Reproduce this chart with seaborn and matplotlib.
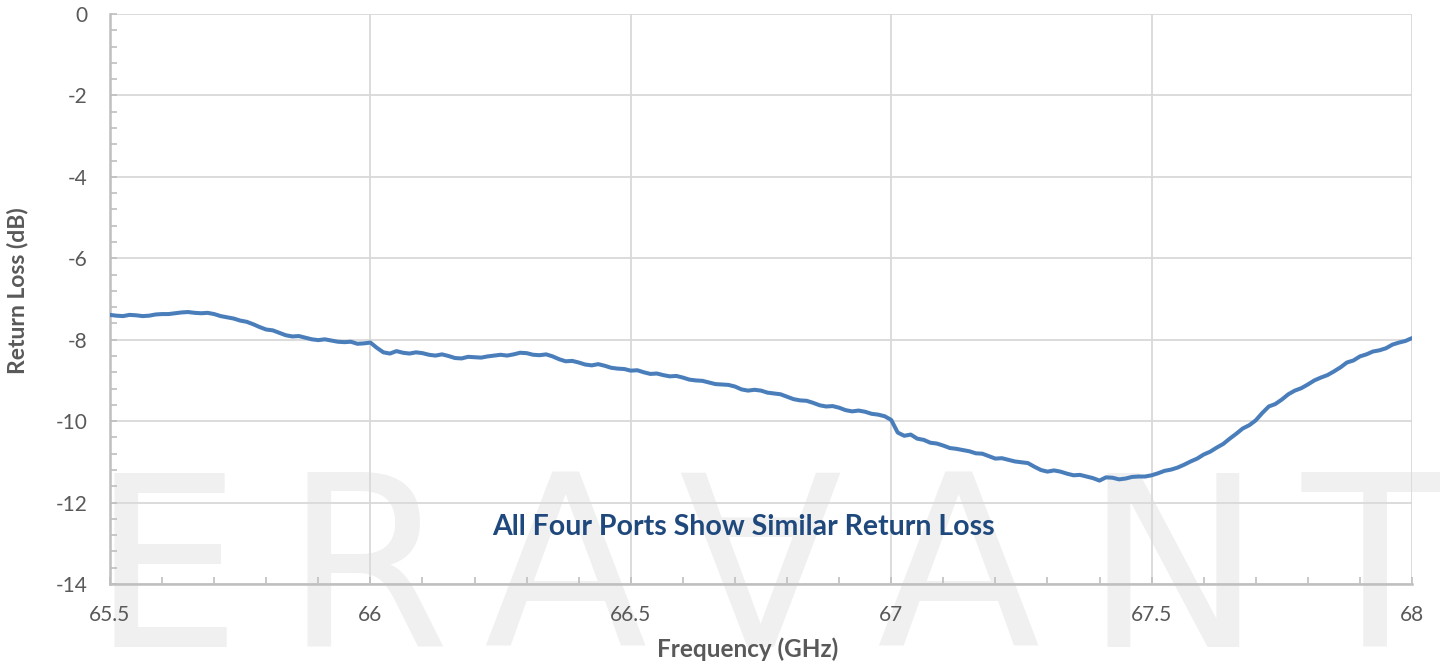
import numpy as np
import pandas as pd
import matplotlib
matplotlib.use("Agg")
import matplotlib.pyplot as plt
from matplotlib.ticker import MultipleLocator
import seaborn as sns

# Measured return loss of a port, 65.5-68 GHz in 12.5 MHz steps
freq_start = 65.5
freq_step = 0.0125
return_loss_db = [
    -7.39, -7.41, -7.42, -7.39, -7.40, -7.42, -7.41, -7.38, -7.37, -7.37,
    -7.35, -7.33, -7.32, -7.34, -7.35, -7.34, -7.37, -7.42, -7.45,
    -7.48, -7.53, -7.56, -7.62, -7.69, -7.75, -7.77, -7.83, -7.89, -7.92,
    -7.91, -7.95, -7.99, -8.01, -7.99, -8.02, -8.05, -8.06, -8.05, -8.10,
    -8.09, -8.07, -8.20, -8.31, -8.34, -8.28, -8.32, -8.34, -8.31, -8.33,
    -8.37, -8.39, -8.36, -8.40, -8.45, -8.46, -8.42, -8.43, -8.44, -8.41,
    -8.39, -8.37, -8.39, -8.36, -8.32, -8.33, -8.37, -8.38, -8.36, -8.41,
    -8.48, -8.53, -8.52, -8.56, -8.61, -8.63, -8.60, -8.64, -8.69, -8.71,
    -8.72, -8.76, -8.75, -8.80, -8.84, -8.83, -8.87, -8.90, -8.89, -8.93,
    -8.98, -9.00, -9.01, -9.05, -9.09, -9.10, -9.11, -9.15, -9.22, -9.25,
    -9.23, -9.25, -9.30, -9.32, -9.34, -9.40, -9.46, -9.49, -9.50, -9.55,
    -9.61, -9.64, -9.63, -9.67, -9.73, -9.76, -9.74, -9.77, -9.82, -9.84,
    -9.88, -9.97, -10.28, -10.36, -10.33, -10.43, -10.46, -10.53, -10.55, -10.60,
    -10.66, -10.68, -10.71, -10.74, -10.79, -10.80, -10.86, -10.92, -10.91, -10.95,
    -10.99, -11.01, -11.03, -11.12, -11.20, -11.24, -11.21, -11.24, -11.29, -11.33,
    -11.32, -11.36, -11.40, -11.46, -11.38, -11.39, -11.43, -11.41, -11.37, -11.36,
    -11.36, -11.33, -11.28, -11.22, -11.19, -11.14, -11.07, -10.99, -10.92, -10.82,
    -10.75, -10.65, -10.56, -10.43, -10.31, -10.18, -10.10, -9.98, -9.80, -9.64,
    -9.58, -9.47, -9.34, -9.25, -9.19, -9.10, -9.00, -8.93, -8.87, -8.78,
    -8.68, -8.56, -8.51, -8.41, -8.36, -8.29, -8.26, -8.21, -8.12, -8.07,
    -8.03, -7.96,
]
frequency_ghz = [round(freq_start + i * freq_step, 4) for i in range(len(return_loss_db))]

x_ticks = [65.5, 66, 66.5, 67, 67.5, 68]
x_tick_labels = ["65.5", "66", "66.5", "67", "67.5", "68"]
y_ticks = [0, -2, -4, -6, -8, -10, -12, -14]
y_tick_labels = ["0", "-2", "-4", "-6", "-8", "-10", "-12", "-14"]

watermark_letters = ["E", "R", "A", "\u2200", "A", "N", "T"]
watermark_centers_px = [166, 367, 565, 760, 958, 1173, 1375]

note_text = "All Four Ports Show Similar Return Loss"

df = pd.DataFrame({"Frequency (GHz)": frequency_ghz, "Return Loss (dB)": return_loss_db})

sns.set_theme(style="white")
plt.rcParams["font.family"] = ["Lato", "DejaVu Sans"]
plt.rcParams["axes.unicode_minus"] = False

W, H = 1440, 666
fig = plt.figure(figsize=(W / 100, H / 100), dpi=100)
ax = fig.add_axes([110 / W, (H - 584) / H, (1412 - 110) / W, (584 - 14) / H])
ax.set_facecolor("none")

# faint logo watermark behind the plot
for letter, cx in zip(watermark_letters, watermark_centers_px):
    fig.text(cx / W, (H - 647) / H, letter, ha="center", va="baseline",
             fontsize=172, color="#f0f0f0", family="DejaVu Sans", zorder=-5)

sns.lineplot(data=df, x="Frequency (GHz)", y="Return Loss (dB)", ax=ax,
             color="#4a7ebb", linewidth=2.9, zorder=3)

ax.set_xlim(65.5, 68)
ax.set_ylim(-14, 0)
ax.set_xticks(x_ticks)
ax.set_xticklabels(x_tick_labels)
ax.set_yticks(y_ticks)
ax.set_yticklabels(y_tick_labels)
ax.xaxis.set_minor_locator(MultipleLocator(0.1))
ax.yaxis.set_minor_locator(MultipleLocator(0.4))

ax.grid(True, which="major", color="#d9d9d9", linewidth=1.3, zorder=1)
ax.set_axisbelow(True)
for side in ["top", "right"]:
    ax.spines[side].set_visible(False)
for side in ["left", "bottom"]:
    ax.spines[side].set_color("#bfbfbf")
    ax.spines[side].set_linewidth(1.8)

ax.tick_params(axis="both", which="both", direction="in", color="#bfbfbf",
               width=1.2, length=5, labelcolor="#595959", labelsize=15)
ax.tick_params(axis="y", which="major", pad=16)
ax.tick_params(axis="x", which="major", pad=15)
ax.tick_params(which="both", left=True, bottom=True)

ax.set_xlabel("Frequency (GHz)", fontsize=17.5, fontweight="bold", color="#595959")
ax.set_ylabel("Return Loss (dB)", fontsize=16.5, fontweight="bold", color="#595959")
ax.xaxis.set_label_coords((748 - 110) / 1302, (584 - 637) / 570)
ax.yaxis.set_label_coords((28 - 110) / 1302, (584 - 291) / 570)

ax.text(66.717, -12.6, note_text, ha="center", va="center", fontsize=20.5,
        fontweight="bold", color="#1f497d", zorder=4)

fig.savefig("out.png", dpi=100)
